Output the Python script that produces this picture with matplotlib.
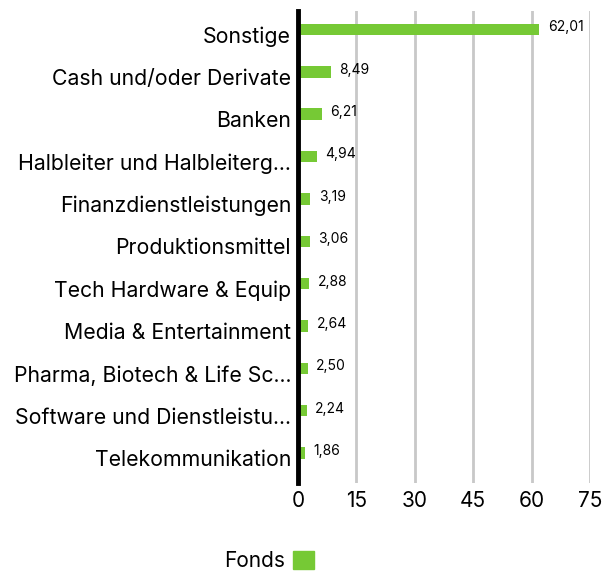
import matplotlib
matplotlib.use("Agg")
import matplotlib.pyplot as plt
from matplotlib.patches import Patch
from matplotlib.transforms import ScaledTranslation

categories = ["Sonstige", "Cash und/oder Derivate", "Banken", "Halbleiter und Halbleiterg...",
              "Finanzdienstleistungen", "Produktionsmittel", "Tech Hardware & Equip",
              "Media & Entertainment", "Pharma, Biotech & Life Sc...", "Software und Dienstleistu...",
              "Telekommunikation"]
values = [62.01, 8.49, 6.21, 4.94, 3.19, 3.06, 2.88, 2.64, 2.50, 2.24, 1.86]
xticks = [0, 15, 30, 45, 60, 75]
series_name = "Fonds"
color = "#76c935"

plt.rcParams['font.family'] = ['Inter', 'DejaVu Sans']

fig = plt.figure(figsize=(6.03, 5.74), dpi=100)
ax = fig.add_axes([298/603, 1-483/574, (590-298)/603, (483-11)/574])

n = len(categories)
pos = list(range(n))
ax.barh(pos, values, height=0.27, color=color, zorder=3)
ax.set_ylim(10.708, -0.437)
ax.set_xlim(0, 75)
ax.set_yticks(pos)
ax.set_yticklabels(categories, fontsize=15.3)
ax.set_xticks(xticks)
ax.set_xticklabels([str(t) for t in xticks], fontsize=15)
ax.tick_params(axis='y', length=0, pad=5)
ax.tick_params(axis='x', length=0, pad=6)
shift = ScaledTranslation(0, -5/100, fig.dpi_scale_trans)
for lbl in ax.get_yticklabels():
    lbl.set_transform(lbl.get_transform() + shift)
for s in ['top', 'right', 'bottom']:
    ax.spines[s].set_visible(False)
ax.spines['left'].set_linewidth(3.5)
ax.spines['left'].set_color('black')
ax.spines['left'].set_zorder(5)
ax.grid(axis='x', color='#c8c8c8', linewidth=2, zorder=0)
ax.set_axisbelow(True)

for p, v in zip(pos, values):
    ax.annotate(f"{v:.2f}".replace('.', ','), xy=(v, p), xytext=(6, 1.5),
                textcoords='offset points', fontsize=10, va='center', ha='left')

fig.legend(handles=[Patch(color=color)], labels=[series_name], loc='center',
           bbox_to_anchor=(269/603, 1-561/574), frameon=False, fontsize=15,
           markerfirst=False, handlelength=1.0, handleheight=1.0, handletextpad=0.4)

fig.savefig("out.png", dpi=100)
